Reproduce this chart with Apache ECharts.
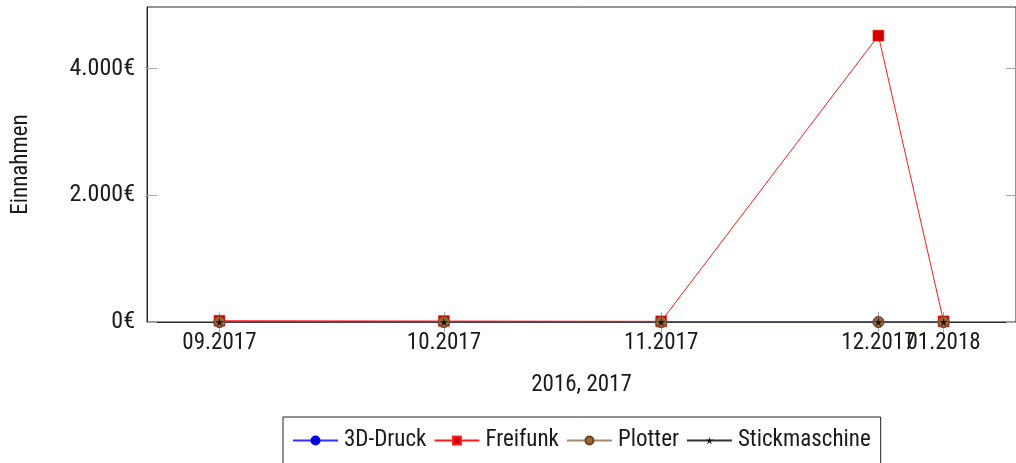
<!DOCTYPE html>
<html><head><meta charset="utf-8">
<script src="https://cdn.jsdelivr.net/npm/echarts@6/dist/echarts.min.js"></script>
<style>html,body{margin:0;padding:0;background:#fff}#c{width:1016px;height:463px}</style>
</head><body><div id="c"></div>
<script>
// ---- data ----
const dates = ['2017-09-01', '2017-10-02', '2017-11-01', '2017-12-01', '2017-12-10'];
const tickLabels = ['09.2017', '10.2017', '11.2017', '12.2017', '01.2018'];
const druck3d = [0, 0, 0, 0, 0];
const freifunk = [20, 15, 10, 4520, 10];
const plotter = [0, 0, 0, 0, 0];
const stickmaschine = [0, 0, 0, 0, 0];
const yTicks = [0, 2000, 4000];
const xName = '2016, 2017';
const yName = 'Einnahmen';

const xs = dates.map(d => new Date(d + 'T00:00:00Z').getTime());
const span = xs[xs.length - 1] - xs[0];
const xMin = xs[0] - 0.1 * span, xMax = xs[xs.length - 1] + 0.1 * span;
const allY = [].concat(druck3d, freifunk, plotter, stickmaschine);
const yMax = Math.max.apply(null, allY) * 1.1;
const pair = arr => arr.map((v, i) => [xs[i], v]);
const labelOf = v => { const i = xs.indexOf(v); return i >= 0 ? tickLabels[i] : ''; };
const euro = v => v.toLocaleString('de-DE') + '€';
const xsEven = xs.filter((v, i) => i % 2 === 0);
const xsOdd = xs.filter((v, i) => i % 2 === 1);

const FONT = '"Roboto Condensed", "DejaVu Sans Condensed", sans-serif';
const TXT = '#1a1a1a';
const starPath = 'path://M50,0 L58,38 L97,35 L64,55 L79,91 L50,66 L21,91 L36,55 L3,35 L42,38 Z';

const chart = echarts.init(document.getElementById('c'), null, {renderer: 'canvas'});
const tickStyle = {show: true, inside: true, length: 10, lineStyle: {color: '#a8a8a8', width: 1}};
const xLabelStyle = {formatter: v => labelOf(v), hideOverlap: false, showMinLabel: true, showMaxLabel: true,
  fontFamily: FONT, fontSize: 23, color: TXT, margin: 10};
chart.setOption({
  animation: false,
  grid: {left: 147, top: 7, width: 870, height: 315, show: true, borderColor: '#2a2a2a', borderWidth: 1, backgroundColor: 'transparent'},
  xAxis: [{
    type: 'value', min: xMin, max: xMax,
    axisLine: {show: true, onZero: false, lineStyle: {color: '#2a2a2a', width: 1}},
    axisTick: Object.assign({customValues: xs}, tickStyle),
    axisLabel: Object.assign({customValues: xsEven}, xLabelStyle),
    splitLine: {show: false},
    name: xName, nameLocation: 'middle', nameGap: 52,
    nameTextStyle: {fontFamily: FONT, fontSize: 23, color: TXT}
  }, {
    type: 'value', position: 'bottom', min: xMin, max: xMax,
    axisLine: {show: false}, axisTick: {show: false}, splitLine: {show: false},
    axisLabel: Object.assign({customValues: xsOdd}, xLabelStyle)
  }, {
    type: 'value', position: 'top', min: xMin, max: xMax,
    axisLine: {show: false}, axisLabel: {show: false}, splitLine: {show: false},
    axisTick: Object.assign({customValues: xs}, tickStyle)
  }],
  yAxis: [{
    type: 'value', min: 0, max: yMax,
    axisLine: {show: true, lineStyle: {color: '#2a2a2a', width: 1}},
    axisTick: Object.assign({customValues: yTicks}, tickStyle),
    axisLabel: {customValues: yTicks, formatter: euro, fontFamily: FONT, fontSize: 24, color: TXT, margin: 12},
    splitLine: {show: false},
    name: yName, nameLocation: 'middle', nameGap: 114, nameRotate: 90,
    nameTextStyle: {fontFamily: FONT, fontSize: 23, color: TXT}
  }, {
    type: 'value', position: 'right', min: 0, max: yMax,
    axisLine: {show: false}, axisLabel: {show: false}, splitLine: {show: false},
    axisTick: Object.assign({customValues: yTicks}, tickStyle)
  }],
  legend: {
    left: 283, top: 417, orient: 'horizontal',
    padding: [12, 10, 14, 9], itemGap: 7, itemWidth: 45, itemHeight: 10,
    borderColor: '#222', borderWidth: 1,
    textStyle: {fontFamily: FONT, fontSize: 23, color: TXT, padding: [0, 0, 0, 1]},
    data: ['3D-Druck', 'Freifunk', 'Plotter', 'Stickmaschine']
  },
  series: [
    {name: '3D-Druck', type: 'line', data: pair(druck3d), symbol: 'circle', symbolSize: 11,
     lineStyle: {color: '#3030ff', width: 1}, itemStyle: {color: '#0000d0', borderColor: '#0000ff', borderWidth: 0.5}},
    {name: 'Freifunk', type: 'line', data: pair(freifunk), symbol: 'rect', symbolSize: 11,
     lineStyle: {color: '#ff1a1a', width: 1}, itemStyle: {color: '#d40000', borderColor: '#ff2020', borderWidth: 0.5}},
    {name: 'Plotter', type: 'line', data: pair(plotter), symbol: 'circle', symbolSize: 11,
     lineStyle: {color: '#a58866', width: 1}, itemStyle: {color: '#9a6636', borderColor: '#6a4420', borderWidth: 0.8}},
    {name: 'Stickmaschine', type: 'line', data: pair(stickmaschine), symbol: starPath, symbolSize: 9,
     lineStyle: {color: '#333333', width: 1}, itemStyle: {color: '#111111'}}
  ]
});
</script></body></html>
